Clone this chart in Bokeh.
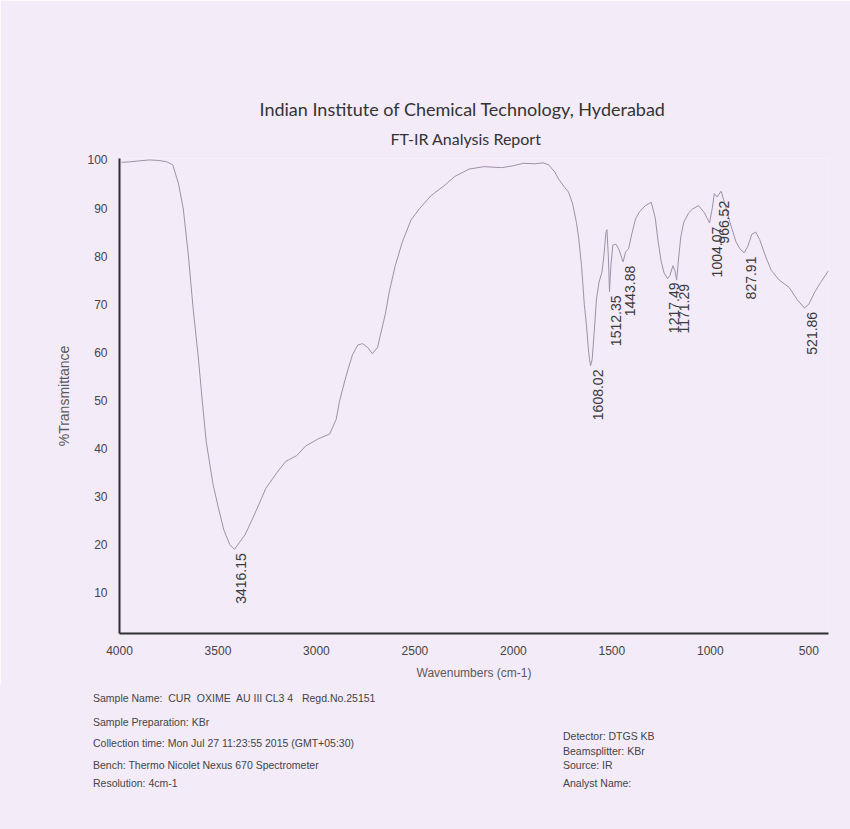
import math
from bokeh.plotting import figure
from bokeh.layouts import column
from bokeh.models import Range1d, FixedTicker, ColumnDataSource, Title, Div
from bokeh.core.properties import value
from bokeh.embed import file_html
from bokeh.resources import INLINE

# ---- spectrum (wavenumber cm-1, %T) ----
ir_wn = [3990, 3950, 3900, 3850, 3800, 3760, 3730, 3700, 3676, 3650, 3626, 3600,
         3580, 3560, 3525, 3500, 3470, 3440, 3416, 3390, 3363, 3323, 3280, 3257,
         3200, 3156, 3100, 3055, 2990, 2933, 2900, 2883, 2850, 2817, 2790, 2766,
         2740, 2716, 2690, 2675, 2650, 2630, 2600, 2564, 2520, 2478, 2420, 2347,
         2300, 2225, 2150, 2059, 2000, 1950, 1892, 1850, 1821, 1790, 1770, 1740,
         1720, 1700, 1680, 1669, 1654, 1640, 1629, 1620, 1614, 1608, 1600, 1590,
         1578, 1565, 1550, 1540, 1530, 1525, 1518, 1512, 1505, 1495, 1480, 1465,
         1443, 1430, 1415, 1400, 1380, 1360, 1330, 1300, 1280, 1265, 1250, 1235,
         1217, 1205, 1190, 1180, 1171, 1160, 1150, 1135, 1110, 1090, 1060, 1030,
         1004, 990, 980, 966, 945, 920, 900, 870, 850, 828, 810, 790, 770, 750,
         720, 690, 650, 600, 560, 522, 500, 470, 440, 400]
ir_T = [99.5, 99.6, 99.8, 100.0, 99.9, 99.6, 99.0, 95.0, 89.8, 80.0, 69.0, 59.0,
        50.0, 41.5, 32.5, 28.0, 23.0, 20.0, 19.0, 20.5, 22.0, 25.5, 29.5, 31.7,
        35.0, 37.3, 38.5, 40.5, 42.0, 43.0, 46.0, 49.8, 55.0, 59.5, 61.5, 61.8,
        61.0, 59.7, 61.0, 63.6, 68.0, 72.6, 78.0, 82.9, 87.5, 89.8, 92.5, 94.8,
        96.5, 98.1, 98.6, 98.4, 98.8, 99.3, 99.2, 99.4, 99.0, 97.5, 96.0, 94.3,
        93.3, 91.0, 87.0, 84.0, 78.0, 70.0, 65.7, 61.0, 58.7, 57.2, 58.5, 64.0,
        71.1, 74.6, 76.7, 80.2, 85.0, 85.5, 80.0, 72.6, 78.0, 82.3, 82.5, 81.5,
        78.8, 80.9, 81.5, 84.4, 87.7, 89.2, 90.5, 91.2, 88.0, 83.0, 79.0, 76.5,
        75.3, 76.0, 78.0, 77.0, 75.0, 80.0, 84.0, 87.0, 89.0, 89.8, 90.5, 89.0,
        86.9, 90.0, 93.0, 92.3, 93.5, 90.0, 87.0, 83.0, 81.5, 80.7, 82.0, 84.5,
        85.0, 83.5, 80.0, 77.0, 75.0, 73.5, 71.0, 69.2, 70.0, 72.5, 74.5, 77.0]

# ---- labelled peaks ----
peak_wn = [3416.15, 1608.02, 1512.35, 1443.88, 1217.49, 1171.29, 1004.07, 966.52, 827.91, 521.86]
peak_T = [19.0, 57.2, 72.6, 78.8, 75.3, 75.0, 86.9, 92.3, 80.7, 69.2]
peak_txt = ["%.2f" % w for w in peak_wn]

x_ticks = [4000, 3500, 3000, 2500, 2000, 1500, 1000, 500]
y_ticks = [10, 20, 30, 40, 50, 60, 70, 80, 90, 100]

title_lines = ["Indian Institute of Chemical Technology, Hyderabad", "FT-IR Analysis Report"]
left_info = ["Sample Name:  CUR  OXIME  AU III CL3 4   Regd.No.25151",
             "Sample Preparation: KBr",
             "Collection time: Mon Jul 27 11:23:55 2015 (GMT+05:30)",
             "Bench: Thermo Nicolet Nexus 670 Spectrometer",
             "Resolution: 4cm-1"]
right_info = ["Detector: DTGS KB", "Beamsplitter: KBr", "Source: IR", "Analyst Name:"]

BG = "#f3ebf8"
SANS = "Liberation Sans"

# ---------------- main spectrum figure ----------------
p = figure(width=850, height=684, output_backend="svg", toolbar_location=None,
           x_range=Range1d(4000, 400), y_range=Range1d(1.5, 100.3),
           min_border_left=119, min_border_right=22, min_border_top=158,
           min_border_bottom=51)
p.background_fill_color = BG
p.border_fill_color = BG
p.outline_line_color = None
p.grid.visible = False

# title line 1 (outermost) and line 2 (closest to the frame)
p.title.text = title_lines[0]
p.title.align = "left"
p.title.offset = 140
p.title.standoff = 0
p.title.vertical_align = "bottom"
p.title.text_font = "Lato"
p.title.text_font_size = "18px"
p.title.text_font_style = "normal"
p.title.text_color = "#333333"
p.add_layout(Title(text=title_lines[1], align="left", offset=271, standoff=18,
                   vertical_align="top",
                   text_font="Lato", text_font_size="16px", text_font_style="normal",
                   text_color="#333333"), "above")

for ax in (p.xaxis[0], p.yaxis[0]):
    ax.axis_line_color = "#2e2e2e"
    ax.axis_line_width = 2
    ax.major_tick_line_color = None
    ax.minor_tick_line_color = None
    ax.major_label_text_font = SANS
    ax.major_label_text_font_size = "12px"
    ax.major_label_text_color = "#444444"
    ax.axis_label_text_font = SANS
    ax.axis_label_text_font_style = "normal"
    ax.axis_label_text_color = "#5a5a5a"
p.xaxis.ticker = FixedTicker(ticks=x_ticks)
p.yaxis.ticker = FixedTicker(ticks=y_ticks)
p.xaxis.major_label_standoff = 6
p.yaxis.major_label_standoff = 6
p.xaxis.axis_label = "Wavenumbers (cm-1)"
p.xaxis.axis_label_text_font_size = "12px"
p.xaxis.axis_label_standoff = 8
p.yaxis.axis_label = "%Transmittance"
p.yaxis.axis_label_text_font_size = "14px"
p.yaxis.axis_label_standoff = 12

src = ColumnDataSource(dict(x=ir_wn, y=ir_T))
p.line("x", "y", source=src, line_color="#9c92a6", line_width=1)

lab_src = ColumnDataSource(dict(x=peak_wn, y=[t - 0.8 for t in peak_T], t=peak_txt))
p.text("x", "y", text="t", source=lab_src, angle=math.pi / 2,
       text_align="right", text_baseline="top", x_offset=2,
       text_font=value(SANS), text_font_size="14px", text_color="#3a3a3a")

# ---------------- footer (instrument info) ----------------
FH = 145
left_y = [14, 38, 59, 81, 99]     # text centres, px below the plot block
right_y = [52, 67, 81, 99]
spans = []
for t, yy in zip(left_info, left_y):
    spans.append('<span style="position:absolute;left:93px;top:%dpx;">%s</span>' % (yy - 6, t))
for t, yy in zip(right_info, right_y):
    spans.append('<span style="position:absolute;left:563px;top:%dpx;">%s</span>' % (yy - 6, t))
html = ('<div style="position:relative;width:850px;height:%dpx;background:%s;'
        'font-family:\'Liberation Sans\';font-size:10.5px;line-height:12px;color:#444444;'
        'white-space:pre;">%s</div>' % (FH, BG, "".join(spans)))
footer = Div(text=html, width=850, height=FH, margin=0)

open("out.html", "w").write(file_html(column(p, footer, spacing=0), INLINE))
